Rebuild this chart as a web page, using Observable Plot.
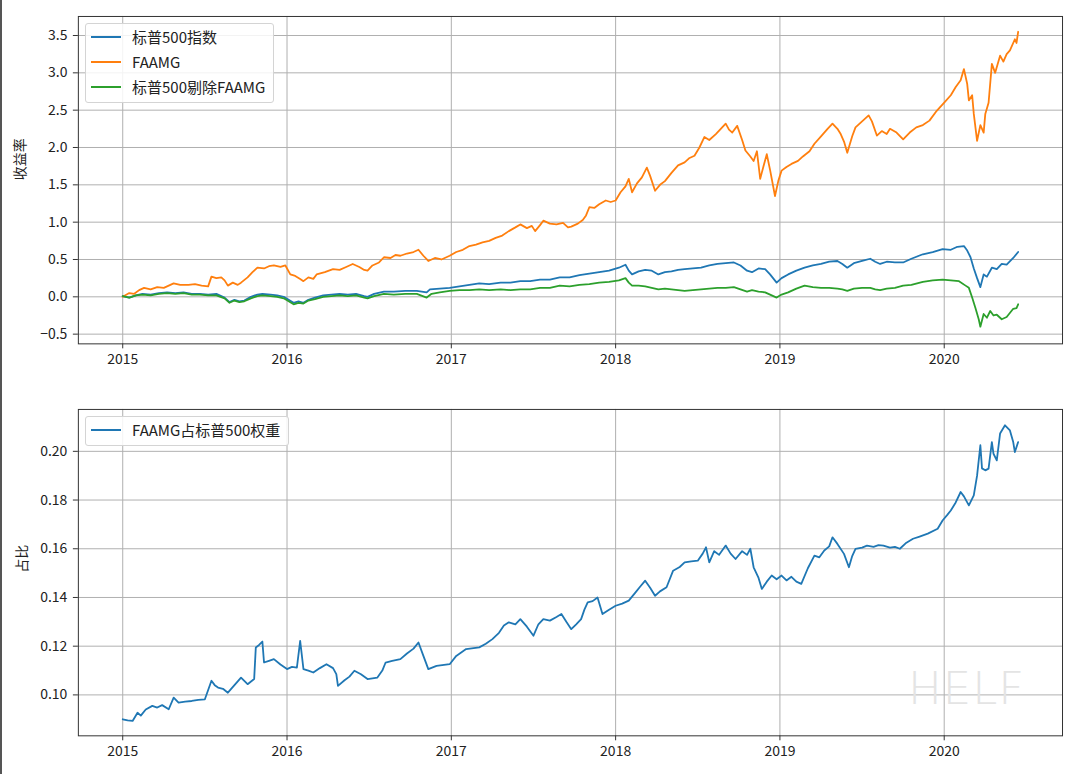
<!DOCTYPE html>
<html>
<head>
<meta charset="utf-8">
<script src="https://cdn.jsdelivr.net/npm/d3@7"></script>
<script src="https://cdn.jsdelivr.net/npm/@observablehq/plot@0.6"></script>
<style>
  html, body { margin: 0; padding: 0; background: #fff; }
  #fig { position: relative; width: 1078px; height: 774px; overflow: hidden; background: #fff;
         font-family: "Noto Sans CJK SC", "Noto Sans", sans-serif; border-left: 2px solid #555; box-sizing: border-box; }
  #fig svg { position: absolute; left: -2px; }
  .legend { position: absolute; border: 1px solid #d4d4d4; border-radius: 3px; background: rgba(255,255,255,0.85);
            padding: 0px 8px 3px 5px; box-sizing: content-box; }
  .row { height: 25px; display: flex; align-items: center; font-size: 15px; color: #222; white-space: nowrap; }
  .swatch { width: 30px; height: 0; border-top: 2px solid; margin-right: 11px; }
  #wm { position: absolute; left: 906px; top: 662px; font-family: "DejaVu Sans", sans-serif; font-size: 45px;
        color: #e4e4e4; letter-spacing: 1px; font-weight: 300; }
</style>
</head>
<body>
<div id="fig"></div>
<script>
// ---------------- data ----------------
const seriesNames = ["标普500指数", "FAAMG", "标普500剔除FAAMG"];
const weightName = "FAAMG占标普500权重";
const seriesColors = ["#1f77b4", "#ff7f0e", "#2ca02c"];

const xTicks = [2015, 2016, 2017, 2018, 2019, 2020];
const topYTicks = [-0.5, 0.0, 0.5, 1.0, 1.5, 2.0, 2.5, 3.0, 3.5];
const bottomYTicks = [0.10, 0.12, 0.14, 0.16, 0.18, 0.20];

// S&P 500 cumulative return (decimal year, value)
const spxYears = [2015.00,2015.04,2015.08,2015.12,2015.17,2015.22,2015.27,2015.32,2015.37,2015.42,2015.47,2015.52,2015.57,2015.62,2015.65,2015.68,2015.71,2015.74,2015.78,2015.82,2015.85,2015.90,2015.94,2015.98,2016.01,2016.04,2016.07,2016.10,2016.13,2016.17,2016.22,2016.27,2016.32,2016.37,2016.42,2016.47,2016.49,2016.53,2016.59,2016.65,2016.72,2016.79,2016.85,2016.87,2016.93,2016.99,2017.05,2017.11,2017.17,2017.23,2017.30,2017.36,2017.42,2017.48,2017.54,2017.60,2017.66,2017.72,2017.78,2017.84,2017.90,2017.96,2018.02,2018.06,2018.08,2018.10,2018.14,2018.18,2018.22,2018.26,2018.30,2018.34,2018.38,2018.42,2018.47,2018.52,2018.57,2018.62,2018.67,2018.72,2018.76,2018.80,2018.83,2018.87,2018.91,2018.94,2018.98,2019.01,2019.05,2019.10,2019.15,2019.20,2019.25,2019.30,2019.35,2019.38,2019.41,2019.45,2019.50,2019.55,2019.58,2019.61,2019.65,2019.70,2019.75,2019.80,2019.87,2019.93,2019.99,2020.04,2020.08,2020.12,2020.14,2020.16,2020.18,2020.20,2020.22,2020.24,2020.26,2020.29,2020.32,2020.35,2020.38,2020.42,2020.45];
const spxValues = [0.01,-0.01,0.02,0.04,0.03,0.05,0.06,0.05,0.06,0.04,0.04,0.03,0.04,-0.01,-0.07,-0.04,-0.06,-0.05,0.00,0.03,0.04,0.03,0.02,0.00,-0.04,-0.08,-0.06,-0.08,-0.04,-0.01,0.02,0.03,0.04,0.03,0.04,0.01,0.00,0.04,0.07,0.07,0.08,0.08,0.06,0.10,0.11,0.12,0.14,0.16,0.18,0.17,0.19,0.19,0.21,0.21,0.23,0.23,0.26,0.26,0.29,0.31,0.33,0.35,0.39,0.43,0.35,0.30,0.34,0.36,0.35,0.30,0.33,0.34,0.36,0.37,0.38,0.39,0.42,0.44,0.45,0.46,0.42,0.35,0.33,0.38,0.37,0.30,0.19,0.25,0.30,0.35,0.39,0.42,0.44,0.47,0.48,0.44,0.39,0.45,0.48,0.51,0.47,0.44,0.47,0.46,0.46,0.51,0.57,0.60,0.64,0.63,0.67,0.68,0.62,0.53,0.38,0.25,0.13,0.30,0.27,0.39,0.37,0.44,0.43,0.52,0.60];

// FAAMG cumulative return
const faamgYears = [2015.00,2015.04,2015.07,2015.10,2015.13,2015.17,2015.21,2015.25,2015.28,2015.31,2015.35,2015.40,2015.44,2015.48,2015.52,2015.54,2015.57,2015.60,2015.62,2015.64,2015.67,2015.70,2015.72,2015.76,2015.79,2015.82,2015.86,2015.89,2015.92,2015.96,2015.99,2016.02,2016.05,2016.08,2016.10,2016.13,2016.16,2016.18,2016.23,2016.28,2016.32,2016.36,2016.40,2016.44,2016.47,2016.49,2016.52,2016.56,2016.59,2016.63,2016.66,2016.69,2016.73,2016.77,2016.80,2016.83,2016.86,2016.90,2016.94,2016.99,2017.03,2017.07,2017.11,2017.15,2017.19,2017.23,2017.27,2017.31,2017.35,2017.39,2017.42,2017.46,2017.49,2017.51,2017.54,2017.56,2017.60,2017.64,2017.68,2017.71,2017.73,2017.77,2017.80,2017.82,2017.84,2017.87,2017.90,2017.94,2017.97,2018.00,2018.03,2018.06,2018.08,2018.10,2018.13,2018.16,2018.19,2018.21,2018.24,2018.27,2018.30,2018.34,2018.38,2018.42,2018.45,2018.48,2018.51,2018.54,2018.57,2018.61,2018.64,2018.67,2018.69,2018.71,2018.74,2018.77,2018.79,2018.82,2018.84,2018.86,2018.88,2018.90,2018.92,2018.94,2018.97,2018.99,2019.01,2019.04,2019.07,2019.11,2019.14,2019.18,2019.21,2019.25,2019.29,2019.32,2019.35,2019.37,2019.39,2019.41,2019.44,2019.46,2019.50,2019.54,2019.56,2019.59,2019.62,2019.65,2019.67,2019.71,2019.75,2019.79,2019.83,2019.87,2019.91,2019.95,2020.00,2020.04,2020.07,2020.10,2020.12,2020.14,2020.15,2020.17,2020.18,2020.20,2020.22,2020.24,2020.25,2020.27,2020.29,2020.31,2020.34,2020.36,2020.38,2020.40,2020.43,2020.44,2020.45];
const faamgValues = [0.00,0.05,0.04,0.09,0.12,0.10,0.13,0.12,0.15,0.18,0.16,0.16,0.17,0.15,0.14,0.27,0.25,0.26,0.22,0.15,0.19,0.16,0.19,0.26,0.33,0.39,0.38,0.41,0.42,0.40,0.42,0.30,0.28,0.24,0.21,0.26,0.24,0.30,0.33,0.37,0.36,0.40,0.44,0.40,0.36,0.35,0.42,0.46,0.53,0.52,0.56,0.55,0.58,0.60,0.63,0.55,0.48,0.52,0.50,0.55,0.60,0.63,0.68,0.70,0.73,0.75,0.79,0.82,0.88,0.93,0.97,0.92,0.95,0.88,0.96,1.02,0.98,0.97,0.99,0.93,0.94,0.98,1.03,1.09,1.20,1.19,1.24,1.29,1.27,1.29,1.40,1.48,1.58,1.40,1.52,1.60,1.73,1.62,1.42,1.50,1.55,1.66,1.76,1.80,1.86,1.89,2.00,2.14,2.10,2.18,2.25,2.32,2.24,2.20,2.29,2.10,1.96,1.88,1.82,1.95,1.58,1.75,1.91,1.70,1.35,1.55,1.69,1.74,1.78,1.82,1.88,1.95,2.05,2.15,2.25,2.32,2.25,2.18,2.08,1.93,2.15,2.27,2.35,2.43,2.35,2.16,2.22,2.18,2.25,2.20,2.11,2.20,2.27,2.30,2.36,2.48,2.60,2.70,2.81,2.90,3.05,2.85,2.63,2.70,2.45,2.09,2.30,2.20,2.45,2.60,3.12,3.00,3.23,3.15,3.25,3.30,3.45,3.40,3.55];

// S&P 500 excluding FAAMG cumulative return
const exYears = [2015.00,2015.04,2015.08,2015.12,2015.17,2015.22,2015.27,2015.32,2015.37,2015.42,2015.47,2015.52,2015.57,2015.62,2015.65,2015.68,2015.71,2015.74,2015.78,2015.82,2015.85,2015.90,2015.94,2015.98,2016.01,2016.04,2016.07,2016.10,2016.13,2016.17,2016.22,2016.27,2016.32,2016.37,2016.42,2016.47,2016.49,2016.53,2016.59,2016.65,2016.72,2016.79,2016.85,2016.88,2016.93,2016.99,2017.05,2017.11,2017.17,2017.23,2017.30,2017.36,2017.42,2017.48,2017.54,2017.60,2017.66,2017.72,2017.78,2017.84,2017.90,2017.96,2018.02,2018.06,2018.08,2018.10,2018.14,2018.18,2018.22,2018.26,2018.30,2018.34,2018.38,2018.42,2018.47,2018.52,2018.57,2018.62,2018.67,2018.72,2018.76,2018.80,2018.83,2018.87,2018.91,2018.94,2018.98,2019.01,2019.05,2019.10,2019.15,2019.20,2019.25,2019.30,2019.35,2019.38,2019.41,2019.45,2019.50,2019.55,2019.58,2019.61,2019.65,2019.70,2019.75,2019.80,2019.87,2019.93,2019.99,2020.04,2020.09,2020.13,2020.15,2020.17,2020.19,2020.21,2020.22,2020.24,2020.26,2020.28,2020.30,2020.32,2020.35,2020.38,2020.42,2020.44,2020.45];
const exValues = [0.01,-0.01,0.02,0.03,0.02,0.04,0.05,0.04,0.05,0.03,0.03,0.02,0.02,-0.02,-0.08,-0.05,-0.07,-0.06,-0.02,0.01,0.02,0.01,0.00,-0.02,-0.06,-0.10,-0.08,-0.09,-0.05,-0.03,0.00,0.01,0.02,0.01,0.02,-0.01,-0.02,0.01,0.04,0.03,0.04,0.04,-0.01,0.04,0.06,0.08,0.09,0.09,0.10,0.09,0.10,0.09,0.10,0.10,0.12,0.12,0.15,0.14,0.16,0.17,0.19,0.20,0.22,0.25,0.19,0.15,0.15,0.14,0.12,0.10,0.11,0.10,0.09,0.08,0.09,0.10,0.11,0.12,0.12,0.13,0.10,0.07,0.09,0.07,0.06,0.03,-0.01,0.03,0.06,0.11,0.15,0.13,0.12,0.12,0.11,0.10,0.08,0.11,0.12,0.12,0.10,0.09,0.11,0.12,0.15,0.16,0.20,0.22,0.23,0.22,0.21,0.15,0.12,-0.01,-0.15,-0.30,-0.40,-0.23,-0.28,-0.19,-0.25,-0.24,-0.30,-0.27,-0.16,-0.15,-0.10];

// FAAMG weight in S&P 500
const weightYears = [2015.00,2015.03,2015.06,2015.09,2015.11,2015.14,2015.18,2015.21,2015.24,2015.28,2015.31,2015.34,2015.38,2015.42,2015.46,2015.50,2015.54,2015.56,2015.58,2015.61,2015.64,2015.68,2015.72,2015.76,2015.80,2015.81,2015.83,2015.85,2015.86,2015.89,2015.92,2015.96,2016.00,2016.03,2016.06,2016.08,2016.10,2016.13,2016.16,2016.20,2016.24,2016.28,2016.30,2016.31,2016.35,2016.38,2016.41,2016.45,2016.49,2016.55,2016.58,2016.60,2016.64,2016.69,2016.73,2016.77,2016.80,2016.83,2016.86,2016.91,2016.99,2017.03,2017.09,2017.17,2017.21,2017.25,2017.29,2017.32,2017.35,2017.39,2017.42,2017.46,2017.50,2017.53,2017.56,2017.60,2017.64,2017.67,2017.70,2017.73,2017.76,2017.79,2017.81,2017.83,2017.86,2017.89,2017.92,2017.96,2018.00,2018.04,2018.08,2018.12,2018.15,2018.18,2018.21,2018.24,2018.27,2018.31,2018.35,2018.39,2018.42,2018.46,2018.50,2018.53,2018.55,2018.57,2018.60,2018.63,2018.67,2018.70,2018.73,2018.77,2018.80,2018.82,2018.84,2018.87,2018.89,2018.92,2018.95,2018.98,2019.01,2019.04,2019.07,2019.10,2019.13,2019.17,2019.21,2019.24,2019.27,2019.30,2019.32,2019.35,2019.39,2019.42,2019.44,2019.46,2019.50,2019.53,2019.57,2019.60,2019.63,2019.67,2019.70,2019.73,2019.77,2019.81,2019.85,2019.90,2019.96,2019.99,2020.02,2020.04,2020.07,2020.10,2020.12,2020.15,2020.18,2020.20,2020.22,2020.23,2020.25,2020.27,2020.29,2020.30,2020.32,2020.34,2020.37,2020.40,2020.42,2020.43,2020.45];
const weightValues = [0.0900,0.0895,0.0893,0.0927,0.0915,0.0940,0.0955,0.0948,0.0958,0.0941,0.0989,0.0968,0.0972,0.0975,0.0980,0.0982,0.1058,0.1040,0.1030,0.1025,0.1009,0.1040,0.1071,0.1044,0.1065,0.1195,0.1205,0.1219,0.1133,0.1140,0.1147,0.1125,0.1106,0.1115,0.1112,0.1222,0.1106,0.1100,0.1092,0.1110,0.1126,0.1110,0.1085,0.1037,0.1060,0.1075,0.1099,0.1085,0.1065,0.1071,0.1100,0.1133,0.1140,0.1147,0.1170,0.1190,0.1215,0.1160,0.1106,0.1119,0.1126,0.1160,0.1188,0.1195,0.1210,0.1229,0.1255,0.1285,0.1298,0.1290,0.1311,0.1280,0.1243,0.1290,0.1311,0.1305,0.1320,0.1332,0.1300,0.1270,0.1290,0.1311,0.1350,0.1380,0.1385,0.1400,0.1332,0.1350,0.1366,0.1375,0.1387,0.1420,0.1445,0.1469,0.1440,0.1407,0.1425,0.1442,0.1510,0.1525,0.1544,0.1548,0.1551,0.1580,0.1606,0.1544,0.1590,0.1575,0.1613,0.1580,0.1558,0.1590,0.1575,0.1600,0.1524,0.1480,0.1435,0.1465,0.1490,0.1475,0.1490,0.1470,0.1485,0.1465,0.1456,0.1520,0.1572,0.1565,0.1593,0.1610,0.1647,0.1620,0.1579,0.1524,0.1570,0.1600,0.1605,0.1613,0.1608,0.1615,0.1613,0.1605,0.1608,0.1600,0.1625,0.1641,0.1650,0.1662,0.1682,0.1716,0.1740,0.1757,0.1790,0.1833,0.1815,0.1778,0.1819,0.1900,0.2025,0.1930,0.1922,0.1929,0.2038,0.1990,0.1963,0.2073,0.2107,0.2086,0.2038,0.1997,0.2038];

// ---------------- build ----------------
const xDomain = [2014.73, 2020.72];
const font = '"Noto Sans CJK SC", "Noto Sans", sans-serif';
const gridStyle = {stroke: "#b0b0b0", strokeOpacity: 1, strokeWidth: 1};

const retData = [
  ...spxYears.map((x, i) => ({x, y: spxValues[i], s: seriesNames[0]})),
  ...faamgYears.map((x, i) => ({x, y: faamgValues[i], s: seriesNames[1]})),
  ...exYears.map((x, i) => ({x, y: exValues[i], s: seriesNames[2]}))
];
const wData = weightYears.map((x, i) => ({x, y: weightValues[i]}));

const common = {
  width: 1078, marginLeft: 78, marginRight: 14,
  style: {fontFamily: font, fontSize: "14px", color: "#222", background: "transparent", overflow: "visible"}
};

const topPlot = Plot.plot({
  ...common, height: 376, marginTop: 16, marginBottom: 32,
  x: {domain: xDomain},
  y: {domain: [-0.63, 3.755]},
  color: {domain: seriesNames, range: seriesColors},
  marks: [
    Plot.gridX(xTicks, gridStyle),
    Plot.gridY(topYTicks, gridStyle),
    Plot.line(retData, {x: "x", y: "y", stroke: "s", z: "s", strokeWidth: 1.8}),
    Plot.frame({stroke: "#333", strokeWidth: 1}),
    Plot.axisX(xTicks, {tickFormat: d => String(d), tickSize: 5, tickPadding: 5, label: null, stroke: "#333"}),
    Plot.axisY(topYTicks, {tickFormat: d3.format(".1f"), tickSize: 5, tickPadding: 6, label: null, stroke: "#333"}),
    Plot.text(["收益率"], {frameAnchor: "left", dx: -58, rotate: -90, fontSize: 14, fill: "#222"})
  ]
});

const bottomPlot = Plot.plot({
  ...common, height: 398, marginTop: 33, marginBottom: 38,
  x: {domain: xDomain},
  y: {domain: [0.0832, 0.2172]},
  marks: [
    Plot.gridX(xTicks, gridStyle),
    Plot.gridY(bottomYTicks, gridStyle),
    Plot.line(wData, {x: "x", y: "y", stroke: seriesColors[0], strokeWidth: 1.8}),
    Plot.frame({stroke: "#333", strokeWidth: 1}),
    Plot.axisX(xTicks, {tickFormat: d => String(d), tickSize: 5, tickPadding: 5, label: null, stroke: "#333"}),
    Plot.axisY(bottomYTicks, {tickFormat: d3.format(".2f"), tickSize: 5, tickPadding: 6, label: null, stroke: "#333"}),
    Plot.text(["占比"], {frameAnchor: "left", dx: -56, rotate: -90, fontSize: 14, fill: "#222"})
  ]
});

const fig = document.getElementById("fig");
topPlot.style.top = "0px";
bottomPlot.style.top = "376px";
fig.appendChild(topPlot);
fig.appendChild(bottomPlot);

function legend(names, colors, left, top) {
  const box = document.createElement("div");
  box.className = "legend";
  box.style.left = (left - 2) + "px";
  box.style.top = top + "px";
  names.forEach((n, i) => {
    const row = document.createElement("div");
    row.className = "row";
    const sw = document.createElement("div");
    sw.className = "swatch";
    sw.style.borderColor = colors[i];
    const t = document.createElement("span");
    t.textContent = n;
    row.appendChild(sw);
    row.appendChild(t);
    box.appendChild(row);
  });
  fig.appendChild(box);
}
legend(seriesNames, seriesColors, 85, 23);
legend([weightName], [seriesColors[0]], 85, 416);

const wm = document.createElement("div");
wm.id = "wm";
wm.textContent = "HELF";
fig.appendChild(wm);
</script>
</body>
</html>
